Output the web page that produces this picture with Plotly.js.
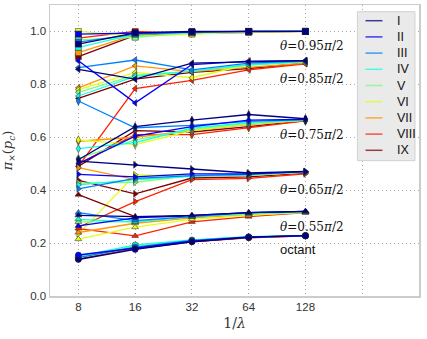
<!DOCTYPE html>
<html>
<head>
<meta charset="utf-8">
<script src="https://cdn.plot.ly/plotly-3.0.1.min.js"></script>
<style>
  html, body { margin: 0; padding: 0; background: #fff; }
  #chart { width: 427px; height: 339px; }
</style>
</head>
<body>
<div id="chart"></div>
<script>
// x values (1/lambda) and series names
var invLambda = [8, 16, 32, 64, 128];
var seriesNames = ['I', 'II', 'III', 'IV', 'V', 'VI', 'VII', 'VIII', 'IX'];
var seriesColors = ['#000080', '#0000ff', '#0080ff', '#15ffe2', '#7bff7b', '#e2ff15', '#ff9700', '#ff2100', '#800000'];

// one row per series (I..IX), values at 8,16,32,64,128
var theta95 = [
    [0.952, 0.995, 1.000, 1.000, 1.000],
    [0.990, 0.995, 0.998, 1.000, 1.000],
    [0.960, 0.990, 0.998, 1.000, 1.000],
    [0.940, 0.990, 0.997, 1.000, 1.000],
    [0.968, 0.978, 0.995, 0.999, 1.000],
    [1.000, 0.982, 0.990, 0.998, 1.000],
    [0.920, 0.988, 0.995, 0.999, 1.000],
    [0.975, 1.000, 0.992, 0.997, 1.000],
    [0.905, 0.985, 0.996, 1.000, 1.000]
];
var theta85 = [
    [0.857, 0.820, 0.880, 0.885, 0.890],
    [0.889, 0.730, 0.875, 0.888, 0.890],
    [0.863, 0.892, 0.855, 0.880, 0.888],
    [0.756, 0.830, 0.850, 0.875, 0.886],
    [0.770, 0.835, 0.850, 0.872, 0.885],
    [0.780, 0.845, 0.825, 0.875, 0.885],
    [0.787, 0.870, 0.848, 0.865, 0.880],
    [0.490, 0.784, 0.815, 0.855, 0.878],
    [0.747, 0.820, 0.845, 0.860, 0.880]
];
var theta75 = [
    [0.515, 0.640, 0.665, 0.686, 0.670],
    [0.500, 0.604, 0.640, 0.665, 0.668],
    [0.737, 0.636, 0.645, 0.660, 0.667],
    [0.557, 0.580, 0.635, 0.655, 0.666],
    [0.520, 0.590, 0.630, 0.652, 0.665],
    [0.590, 0.572, 0.625, 0.650, 0.665],
    [0.585, 0.600, 0.625, 0.648, 0.664],
    [0.500, 0.610, 0.610, 0.636, 0.662],
    [0.490, 0.625, 0.620, 0.640, 0.663]
];
var theta65 = [
    [0.510, 0.496, 0.480, 0.465, 0.471],
    [0.460, 0.450, 0.462, 0.462, 0.470],
    [0.405, 0.445, 0.455, 0.460, 0.470],
    [0.420, 0.440, 0.452, 0.458, 0.469],
    [0.427, 0.430, 0.455, 0.457, 0.468],
    [0.235, 0.458, 0.455, 0.456, 0.468],
    [0.485, 0.440, 0.455, 0.455, 0.467],
    [0.260, 0.357, 0.440, 0.445, 0.462],
    [0.437, 0.386, 0.446, 0.450, 0.465]
];
var theta55 = [
    [0.305, 0.300, 0.305, 0.315, 0.320],
    [0.265, 0.295, 0.305, 0.315, 0.320],
    [0.315, 0.285, 0.300, 0.315, 0.320],
    [0.290, 0.280, 0.300, 0.312, 0.318],
    [0.280, 0.280, 0.300, 0.310, 0.318],
    [0.215, 0.260, 0.290, 0.305, 0.316],
    [0.240, 0.275, 0.295, 0.308, 0.316],
    [0.255, 0.227, 0.280, 0.300, 0.315],
    [0.383, 0.300, 0.300, 0.310, 0.318]
];
var octant = [
    [0.138, 0.176, 0.205, 0.222, 0.228],
    [0.155, 0.180, 0.207, 0.222, 0.228],
    [0.145, 0.185, 0.210, 0.223, 0.228],
    [0.150, 0.193, 0.212, 0.224, 0.228],
    [0.145, 0.190, 0.210, 0.223, 0.228],
    [0.145, 0.185, 0.210, 0.222, 0.228],
    [0.145, 0.183, 0.208, 0.222, 0.228],
    [0.142, 0.178, 0.205, 0.220, 0.227],
    [0.140, 0.180, 0.206, 0.221, 0.227]
];

var groups = [theta95, theta85, theta75, theta65, theta55, octant];
var groupSymbols = ['square', 'triangle-left', 'diamond-tall', 'triangle-right', 'triangle-up', 'circle'];
var groupLabels = ['<i>θ</i>=0.95<i>π</i>/2', '<i>θ</i>=0.85<i>π</i>/2', '<i>θ</i>=0.75<i>π</i>/2',
                   '<i>θ</i>=0.65<i>π</i>/2', '<i>θ</i>=0.55<i>π</i>/2', 'octant'];
var labelY = [0.944, 0.819, 0.607, 0.402, 0.259, 0.174];

var data = [];
// draw IX first so series I ends up on top
groups.forEach(function (g, gi) {
    for (var s = seriesNames.length - 1; s >= 0; s--) {
        data.push({
            x: invLambda,
            y: g[s],
            type: 'scatter',
            mode: 'lines+markers',
            showlegend: false,
            hoverinfo: 'none',
            line: { color: seriesColors[s], width: 1.3 },
            marker: { symbol: groupSymbols[gi], size: 6, color: seriesColors[s],
                      line: { color: '#222', width: 0.5 } }
        });
    }
});

var annotations = groupLabels.map(function (t, i) {
    return {
        text: t, xref: 'paper', x: 0.617, xanchor: 'left',
        yref: 'y', y: labelY[i], yanchor: 'middle', showarrow: false,
        font: i === 5 ? { family: 'Liberation Sans, Arial, sans-serif', size: 13, color: '#111' }
                      : { family: 'DejaVu Serif, serif', size: 12, color: '#111' }
    };
});

// hand-built legend box (matplotlib-style, tighter spacing than plotly's own legend)
var shapes = [{
    type: 'rect', xref: 'paper', yref: 'paper',
    x0: 0.833, x1: 0.989, y0: 0.465, y1: 0.977,
    fillcolor: '#eaeaea', line: { color: '#d0d0d0', width: 1 }, layer: 'above'
}];
seriesNames.forEach(function (n, s) {
    var yy = (296 - (20.7 + 16.2 * s)) / 291;
    shapes.push({
        type: 'line', xref: 'paper', yref: 'paper',
        x0: 0.855, x1: 0.901, y0: yy, y1: yy,
        line: { color: seriesColors[s], width: 1.5 }, opacity: 0.75, layer: 'above'
    });
    annotations.push({
        text: n, xref: 'paper', yref: 'paper', x: 0.935, y: yy,
        xanchor: 'left', yanchor: 'middle', showarrow: false,
        font: { family: 'Liberation Sans, Arial, sans-serif', size: 12.5, color: '#111' }
    });
});

var gridDash = '1px,3px';
var layout = {
    width: 427,
    height: 339,
    margin: { l: 50, r: 8, t: 5, b: 43 },
    paper_bgcolor: '#ffffff',
    plot_bgcolor: '#ffffff',
    showlegend: false,
    font: { family: 'Liberation Sans, Arial, sans-serif', size: 11, color: '#333' },
    xaxis: {
        type: 'log',
        range: [Math.log10(Math.pow(2, 2.5)), Math.log10(512)],
        tickvals: [8, 16, 32, 64, 128],
        ticktext: ['8', '16', '32', '64', '128'],
        showgrid: true, gridcolor: '#a8a8a8', griddash: gridDash, gridwidth: 1,
        minor: { tickvals: [256], showgrid: true, gridcolor: '#a8a8a8', griddash: gridDash, gridwidth: 1, ticks: '' },
        zeroline: false,
        showline: true, mirror: true, linecolor: '#cccccc', linewidth: 1.5,
        ticks: '',
        tickfont: { size: 11.5, color: '#333' },
        title: { text: '1/<i>λ</i>', font: { family: 'DejaVu Serif, serif', size: 14, color: '#333' }, standoff: 6 }
    },
    yaxis: {
        range: [0, 1.1],
        tickvals: [0, 0.2, 0.4, 0.6, 0.8, 1.0],
        tickformat: '.1f',
        showgrid: true, gridcolor: '#a8a8a8', griddash: gridDash, gridwidth: 1,
        zeroline: false,
        showline: true, mirror: true, linecolor: '#cccccc', linewidth: 1.5,
        ticks: '',
        tickfont: { size: 11.5, color: '#333' },
        title: { text: '<i>π</i><sub>×</sub>(<i>p</i><sub><i>c</i></sub>)',
                 font: { family: 'DejaVu Serif, serif', size: 13, color: '#333' }, standoff: 14 }
    },
    shapes: shapes,
    annotations: annotations
};

Plotly.newPlot('chart', data, layout, { displayModeBar: false, staticPlot: true });
</script>
</body>
</html>
